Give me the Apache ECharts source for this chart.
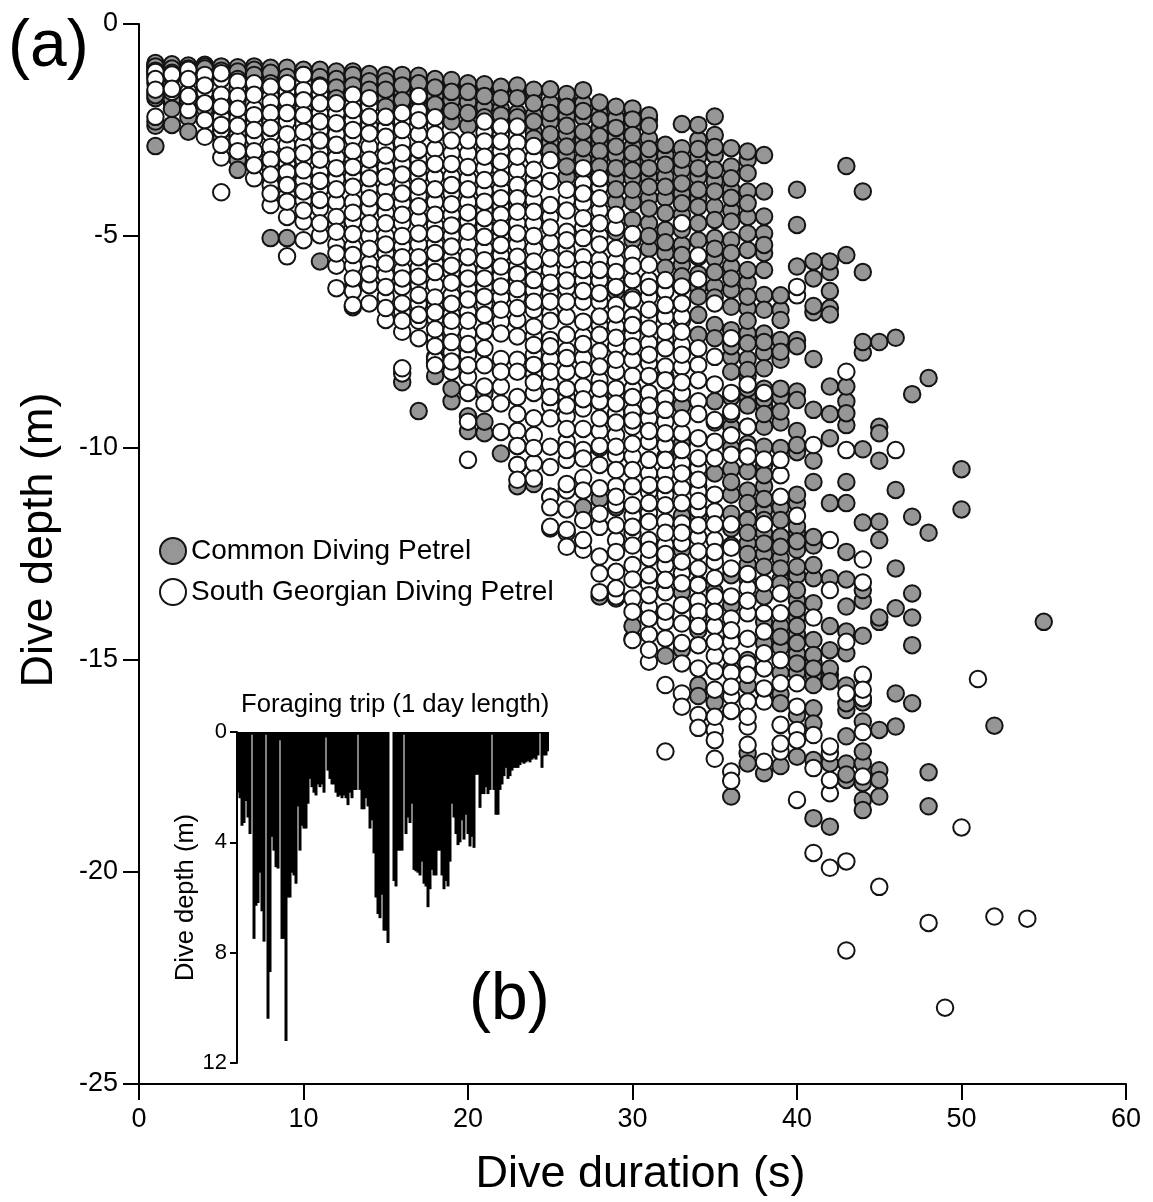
<!DOCTYPE html>
<html><head><meta charset="utf-8">
<style>html,body{margin:0;padding:0;background:#fff}#c{width:1153px;height:1202px}</style>
<script src="https://cdn.jsdelivr.net/npm/echarts@6/dist/echarts.min.js"></script>
</head><body><div id="c"></div>
<script>
const xTicks = [0,10,20,30,40,50,60];
const yTicks = [0,-5,-10,-15,-20,-25];
const speciesNames = ['Common Diving Petrel','South Georgian Diving Petrel'];
const durations = Array.from({length:55},(_,i)=>i+1);
// dive depth (m below surface), one list per dive duration 1..55 s
const commonDepths = [
[0.92,0.98,1.0,1.05,1.1,1.15,1.2,1.6,1.68,1.75,2.3,2.4,2.88],
[0.95,0.98,1.05,1.1,1.15,1.7,1.78,1.85,2.0,2.38],
[0.98,1.0,1.05,1.1,1.8,2.2,2.54],
[0.96,0.98,1.0,1.03,1.05,1.1,1.7,2.0],
[1.0,1.05,1.1,1.2,2.1,2.4,2.5,2.7],
[1.02,1.08,1.12,1.2,1.3,1.5,2.9,3.2,3.44],
[1.0,1.03,1.08,1.12,1.2,1.3,1.45],
[1.03,1.08,1.15,1.25,1.4,5.05],
[1.03,1.1,1.25,1.35,5.05],
[1.08,1.15,1.2,1.3],
[1.08,1.1,1.25,1.3,1.45,1.5,5.6],
[1.12,1.2,1.3,1.4,1.5,1.65,1.75],
[1.12,1.15,1.2,1.3,1.45,1.6,1.8,6.2,6.68],
[1.18,1.25,1.35,1.5,1.55,1.7],
[1.2,1.25,1.35,1.45,1.55,1.75,1.95],
[1.2,1.3,1.45,1.6,1.8,2.0,8.45],
[1.22,1.3,1.4,1.5,1.75,1.95,9.13],
[1.3,1.35,1.5,1.7,1.9,2.1,7.85,8.0,8.3],
[1.32,1.4,1.6,1.8,2.05,2.3,8.6,8.9],
[1.4,1.45,1.6,1.85,2.1,2.4,9.25,9.6],
[1.42,1.5,1.7,1.95,2.2,8.7,9.38,9.65],
[1.48,1.55,1.75,2.0,2.15,2.35,10.13],
[1.45,1.5,1.75,2.1,2.2,10.4,10.9,9.95],
[1.55,1.65,1.87,2.15,2.3,2.55,2.7,10.75,10.85],
[1.54,1.87,2.1,2.3,2.6,2.8,3.0,11.9,11.15],
[1.65,1.75,1.95,2.18,2.4,2.6,2.89,3.1,3.36,3.6,12.0],
[1.56,1.87,2.05,2.2,2.54,2.75,2.93,3.2,3.5,11.4],
[1.85,2.1,2.25,2.46,2.65,2.8,3.0,3.2,3.36,3.5,5.0,11.2,13.5],
[1.95,2.22,2.45,2.66,2.89,3.1,3.4,3.65,3.9,4.2,4.9,6.3,11.4,13.55],
[1.99,2.12,2.25,2.42,2.62,2.89,3.05,3.25,3.45,3.64,3.91,4.2,4.62,5.1,6.43,7.2,14.2,14.5],
[2.15,2.26,2.4,2.7,2.95,3.1,3.4,3.6,3.84,4.1,4.35,4.7,5.0,5.3,6.9,14.0],
[2.85,3.1,3.32,3.6,3.84,4.1,4.46,4.86,5.15,5.4,5.75,8.3,10.2,13.9,14.9],
[2.36,2.93,3.2,3.44,3.76,4.0,4.23,4.5,4.85,5.21,5.45,5.68,5.95,6.19,6.59,7.0,8.7,9.0,9.9,11.6,12.4,13.4,14.75],
[2.38,2.73,2.95,3.13,3.4,3.6,3.91,4.12,4.31,4.7,5.1,5.5,5.9,6.2,6.43,6.86,7.33,10.9,11.6,13.2,14.3,15.59,15.85],
[2.18,2.62,2.9,3.1,3.44,3.7,3.95,4.31,4.62,5.05,5.3,5.53,5.85,6.19,6.45,7.1,7.41,8.9,9.4,10.6,12.5,13.4,14.2,16.0],
[2.93,3.36,3.64,3.9,4.1,4.4,4.66,5.1,5.4,5.72,6.0,6.27,6.67,7.22,7.6,7.85,8.2,8.8,9.2,9.5,10.0,10.5,10.8,11.1,11.55,11.9,12.3,13.0,13.7,14.5,15.2,18.22],
[3.01,3.2,3.52,3.95,4.23,4.55,4.94,5.33,5.8,6.1,6.43,6.7,7.0,7.3,7.53,7.9,8.16,8.3,8.6,8.8,9.0,9.5,9.9,10.2,10.55,11.0,11.3,11.7,12.0,12.25,12.5,12.75,13.1,15.0,15.6,17.2,17.44],
[3.09,3.95,4.54,4.94,5.21,5.4,5.8,6.39,6.74,7.3,7.5,7.75,8.12,8.6,8.85,9.0,9.2,9.5,9.97,10.4,10.64,10.9,11.2,11.46,11.7,12.0,12.25,12.5,12.8,13.5,14.1,14.6,15.7,17.67],
[6.4,6.74,6.98,7.45,7.73,7.92,8.6,8.79,9.14,9.4,10.0,11.4,11.7,12.09,12.33,12.6,12.84,13.1,13.2,14.2,14.45,14.7,15.3,15.8,16.02,17.5],
[3.91,4.74,5.72,7.45,7.6,8.67,8.87,9.6,9.93,10.1,11.1,11.3,11.85,12.0,12.2,12.4,12.8,13.0,13.35,13.6,13.8,14.0,14.2,14.4,14.6,14.85,15.08,15.3,16.3,17.28],
[5.6,6.0,6.65,6.8,7.9,9.1,10.3,10.8,12.1,12.3,12.76,13.07,13.66,14.53,14.88,15.05,15.2,15.35,15.59,16.14,16.5,17.36,18.73],
[5.6,5.85,6.3,6.7,6.85,8.55,9.2,9.77,11.3,13.07,14.2,14.77,15.2,15.35,15.5,17.44,18.93],
[3.35,5.45,8.55,8.9,9.18,9.46,10.8,11.3,12.45,13.1,13.74,14.33,14.84,15.6,16.02,16.18,16.8,17.44,17.7,17.83],
[3.95,5.85,7.5,7.75,10.03,11.76,13.35,13.6,14.43,15.9,16.0,16.45,17.16,17.44,17.9,18.3,18.54],
[7.5,9.5,9.65,10.3,11.74,12.17,14.0,14.1,16.65,17.6,17.83,18.22],
[7.4,10.99,12.84,13.78,15.79,16.57],
[8.73,11.62,13.43,14.0,14.65,16.02],
[8.35,12.0,17.65,18.45],
[],
[10.5,11.45],
[],
[16.55],
[],
[],
[14.1]
];
const southGeorgianDepths = [
[1.13,1.25,1.3,1.4,1.55,2.19],
[1.19,1.25,1.53,1.6],
[1.08,1.2,1.3,1.6,1.7,2.03],
[1.2,1.32,1.45,1.6,1.87,2.27,2.66],
[1.16,1.3,1.67,1.8,1.95,2.2,2.38,2.5,2.85,3.15,3.97],
[1.36,1.55,1.7,1.79,2.0,2.23,2.4,2.6,3.0,2.75],
[1.4,1.55,1.67,2.0,2.15,2.35,2.5,2.7,3.0,3.15,3.33,3.64],
[1.48,1.7,1.85,1.95,2.1,2.3,2.45,2.6,2.9,3.05,3.2,3.4,3.55,3.8,4.0,4.27],
[1.4,1.6,1.8,1.95,2.1,2.3,2.6,2.85,3.1,3.3,3.5,3.65,3.8,4.05,4.19,4.55,5.48],
[1.2,1.4,1.56,1.7,1.8,2.0,2.15,2.35,2.54,2.85,3.05,3.2,3.45,3.68,3.95,4.15,4.4,4.66,5.1],
[1.48,1.65,1.87,2.1,2.3,2.5,2.75,3.0,3.2,3.5,3.7,3.9,4.15,4.35,4.7,4.98],
[1.87,2.1,2.34,2.6,2.85,3.15,3.4,3.65,3.9,4.2,4.55,4.75,4.9,5.2,5.41,5.7,6.23],
[1.67,1.9,2.03,2.27,2.5,2.7,3.0,3.2,3.37,3.6,3.84,4.2,4.45,4.66,4.95,5.25,5.45,5.7,6.0,6.3,6.63],
[1.75,1.95,2.19,2.4,2.58,2.9,3.2,3.45,3.64,3.9,4.11,4.35,4.7,5.0,5.3,5.65,5.9,6.16,6.59],
[2.19,2.45,2.66,2.9,3.1,3.37,3.6,3.9,4.2,4.45,4.7,5.0,5.2,5.41,5.65,5.92,6.2,6.43,6.7,6.98],
[2.1,2.3,2.5,2.8,3.05,3.3,3.55,3.8,4.0,4.23,4.5,4.7,5.0,5.25,5.5,5.8,6.0,6.2,6.59,6.8,7.0,7.26,8.12,8.24],
[1.7,2.05,2.27,2.6,2.97,3.2,3.4,3.6,3.84,4.05,4.3,4.6,4.94,5.2,5.5,5.75,5.96,6.15,6.39,6.6,6.86,7.0,7.41],
[2.2,2.4,2.6,2.95,3.3,3.6,3.9,4.2,4.5,4.75,4.95,5.2,5.4,5.65,5.85,6.15,6.45,6.65,6.8,6.95,7.2,7.4,7.6,7.9,8.05],
[2.75,3.05,3.3,3.6,3.8,4.0,4.25,4.5,4.75,5.0,5.25,5.5,5.7,5.85,6.1,6.4,6.6,6.85,7.0,7.22,7.5,7.75,7.96,8.2],
[2.75,3.05,3.37,3.65,3.9,4.2,4.45,4.65,4.9,5.2,5.5,5.8,6.0,6.25,6.5,6.8,7.0,7.3,7.55,7.8,8.05,8.32,8.7,9.38,10.28],
[2.3,2.55,2.77,2.97,3.13,3.4,3.68,3.95,4.19,4.4,4.58,4.78,5.02,5.3,5.57,5.8,6.0,6.2,6.43,6.6,6.86,7.25,7.65,8.05,8.55,8.95],
[2.42,2.6,2.77,3.0,3.25,3.45,3.64,3.9,4.11,4.3,4.5,4.65,4.82,5.0,5.21,5.45,5.72,5.95,6.19,6.45,6.74,7.02,7.3,7.9,8.2,8.55,8.95,9.62],
[2.42,2.8,3.13,3.45,3.8,3.95,4.11,4.25,4.43,4.7,4.94,5.2,5.49,5.72,5.9,6.08,6.25,6.43,6.7,6.98,7.37,7.92,8.2,8.8,9.2,9.6,9.95,10.4,10.75],
[2.88,3.15,3.44,3.65,3.88,4.15,4.43,4.7,5.0,5.3,5.6,5.8,6.04,6.28,6.55,6.74,7.14,7.36,7.57,7.8,8.04,8.25,8.45,8.7,9.3,9.7,10.0,10.36,10.72],
[3.21,3.7,4.27,4.55,4.8,5.15,5.53,5.8,6.1,6.35,6.55,6.82,7.0,7.45,7.6,7.9,8.2,8.5,8.8,9.0,9.3,9.97,10.45,11.15,11.4,11.86],
[3.91,4.15,4.4,4.9,5.1,5.33,5.55,5.8,6.05,6.23,6.55,6.9,7.33,7.7,7.88,8.2,8.6,8.8,9.0,9.25,9.55,9.85,10.05,10.28,10.85,11.0,11.45,11.93,12.33],
[3.4,3.76,4.0,4.23,4.58,4.8,5.05,5.5,5.8,6.04,6.3,6.55,7.02,7.37,7.55,7.88,8.16,8.55,8.85,9.07,9.55,10.05,10.25,10.7,11.0,11.7,12.17,12.4],
[3.64,3.85,4.11,4.4,4.7,5.0,5.2,5.56,5.8,6.04,6.35,6.55,6.9,7.1,7.33,7.72,8.08,8.4,8.6,8.9,9.3,9.6,9.95,10.0,10.4,10.95,11.55,11.86,12.56,12.96,13.4],
[4.5,4.8,5.29,5.6,5.85,6.08,6.2,6.63,6.85,7.14,7.4,7.6,7.92,8.2,8.6,8.75,8.95,9.18,9.4,9.7,9.97,10.17,10.52,10.9,11.15,11.34,11.82,12.17,12.45,12.92,13.31,13.5],
[4.95,5.42,5.7,6.04,6.5,6.9,7.1,7.33,7.6,7.92,8.3,8.6,8.8,9.14,9.35,9.5,9.9,10.2,10.52,10.9,11.35,11.6,11.86,12.0,12.3,12.76,13.1,13.55,13.86,14.53],
[5.68,6.04,6.2,6.43,6.74,6.95,7.18,7.53,7.8,8.0,8.3,8.7,9.0,9.3,9.6,9.85,10.28,10.6,10.87,11.03,11.3,11.54,11.74,12.17,12.4,12.6,13.0,13.2,13.47,13.75,14.02,14.4,14.76,15.04],
[6.04,6.3,6.63,6.9,7.26,7.45,7.65,8.08,8.4,8.83,9.1,9.38,9.65,9.93,10.28,10.6,10.87,11.1,11.35,11.74,12.0,12.29,12.5,12.76,13.11,13.4,13.86,14.1,14.49,15.59,17.16],
[4.7,6.19,6.59,6.9,7.26,7.57,7.8,8.08,8.45,8.71,9.3,9.65,10.05,10.36,10.6,10.95,11.3,11.78,12.0,12.25,12.68,12.95,13.19,13.7,14.14,14.6,15.08,15.79,16.1],
[5.46,6.02,7.65,8.04,8.4,8.9,9.2,9.77,10.24,10.48,10.75,11.03,11.25,11.46,11.82,12.1,12.44,12.84,13.23,13.6,13.86,14.0,14.2,14.65,15.2,16.3,16.6],
[6.59,7.85,8.5,9.34,9.85,10.24,11.1,11.5,11.8,12.17,12.45,12.68,13.07,13.5,13.86,14.2,14.57,14.9,15.27,15.7,16.34,16.65,16.89,17.33],
[7.41,8.7,9.14,9.7,10.16,11.8,12.35,12.84,13.5,14.02,14.3,14.57,14.92,15.3,15.63,15.85,16.2,17.63,17.85],
[8.5,9.5,10.2,10.0,12.97,13.3,13.6,13.9,14.5,15.08,15.35,15.98,16.34,16.57,17.0],
[8.7,10.27,11.8,13.19,13.9,14.33,14.84,15.2,15.67,15.98,17.4],
[10.28,10.64,11.15,13.43,13.9,15.0,15.55,16.53,16.97,17.16],
[6.2,6.4,11.6,15.55,16.1,16.65,16.89,18.3],
[9.93,14.0,16.77,17.55,19.55],
[12.17,13.35,17.04,17.2,17.83,18.14,19.9],
[8.2,10.05,14.57,15.79,21.85,19.75],
[12.63,13.17,15.35,15.39,15.7,15.9,16.7,17.75],
[20.35],
[10.05],
[],
[21.2],
[23.2],
[18.95],
[15.45],
[21.05],
[],
[21.1],
[]
];
// trip profile (inset b): dive depth through one foraging day
const tripDepths = [2.2,2.4,3.4,3.3,2.5,3.1,3.7,0.1,7.5,6.3,6.2,5.1,6.5,7.6,0.1,10.4,8.7,3.8,4.3,4.9,4.95,0.3,7.5,7.5,11.2,6,6,5.1,5.2,5.5,2.7,4.3,3.4,3.5,3.5,2.6,1.7,2.0,2.2,2.3,1.9,2.0,1.9,2.2,0.2,1.4,1.7,1.9,1.9,2.2,2.35,2.3,2.4,2.3,2.4,2.65,2.2,2.4,2.1,2.1,0.1,2.1,2.8,2.8,2.4,2.7,3.5,3.2,4.4,6.0,6.6,6.75,5.9,7.2,7.2,7.65,0,0,5.4,5.6,4.3,4.3,4.3,0.1,3.7,3.1,3.3,2.6,5.0,5.05,5.1,5.2,4.7,5.5,5.6,6.35,5.7,5.0,5.2,5.2,4.3,4.3,5.2,5.7,5.4,5.6,4.7,2.6,3.1,3.7,4.1,4.0,3.2,3.9,3.0,3.7,4.15,3.8,4.2,1.55,1.55,2.75,2.25,2.25,2.0,2.25,2.1,0.1,2.1,3.0,3.0,2.1,1.9,1.6,1.3,1.7,1.6,1.4,1.3,1.3,1.3,1.2,1.1,1.15,1.1,1.05,1.1,1.0,0.95,1.0,0.85,0.05,1.3,0.85,0.85,0.7];
const tripTicks = [0,4,8,12];

// draw order only: every second dive first, the rest on top, as in an unsorted record
const drawOrder = list => [...list.filter((_,k)=>k%2===1),...list.filter((_,k)=>k%2===0)];
const toPoints = cols => cols.flatMap((list,i)=>drawOrder(list).map(v=>[durations[i],-v]));
const font = 'Liberation Sans, Arial, sans-serif';
const chart = echarts.init(document.getElementById('c'),null,{renderer:'canvas'});
const mark = fill => ({color:fill,borderColor:'#141414',borderWidth:2,opacity:1});
chart.setOption({
  animation:false,
  backgroundColor:'#fff',
  textStyle:{fontFamily:font,color:'#000'},
  grid:[
    {left:139,top:24,width:987,height:1060,outerBoundsMode:'none'},
    {left:237,top:732,width:312,height:331,outerBoundsMode:'none'}
  ],
  xAxis:[
    {gridIndex:0,type:'value',min:xTicks[0],max:xTicks[6],interval:10,splitLine:{show:false},
     axisLine:{onZero:false,lineStyle:{color:'#000',width:2}},axisTick:{length:16,lineStyle:{color:'#000',width:2}},
     axisLabel:{fontSize:27,margin:22,color:'#000',fontFamily:font},
     name:'Dive duration (s)',nameLocation:'middle',nameGap:68,nameTextStyle:{fontSize:45,color:'#000',fontFamily:font,padding:[0,0,0,16]}},
    {gridIndex:1,type:'category',data:tripDepths.map((_,i)=>i),show:false}
  ],
  yAxis:[
    {gridIndex:0,type:'value',min:yTicks[5],max:yTicks[0],interval:5,splitLine:{show:false},
     axisLine:{onZero:false,lineStyle:{color:'#000',width:2}},axisTick:{length:16,lineStyle:{color:'#000',width:2}},
     axisLabel:{fontSize:27,margin:21,color:'#000',fontFamily:font},
     name:'Dive depth (m)',nameLocation:'middle',nameGap:77,nameTextStyle:{fontSize:45,color:'#000',fontFamily:font,padding:[0,0,0,28]}},
    {gridIndex:1,type:'value',inverse:true,min:tripTicks[0],max:tripTicks[3],interval:4,splitLine:{show:false},
     axisLine:{show:true,onZero:false,lineStyle:{color:'#000',width:2}},axisTick:{show:true,length:7,lineStyle:{color:'#000',width:2}},
     axisLabel:{fontSize:22,margin:10,color:'#000',fontFamily:font},
     name:'Dive depth (m)',nameLocation:'middle',nameGap:38,nameTextStyle:{fontSize:25.5,color:'#000',fontFamily:font}}
  ],
  legend:{show:true,orient:'vertical',left:154,top:532,itemWidth:26,itemHeight:26,itemGap:13,icon:'circle',
    data:speciesNames,textStyle:{fontSize:28,color:'#000',fontFamily:font},
    itemStyle:{borderColor:'#141414',borderWidth:2}},
  graphic:[
    {type:'text',left:8,top:15,style:{text:'(a)',fontSize:66,fontFamily:font,fill:'#000'}},
    {type:'text',left:469,top:968,style:{text:'(b)',fontSize:66,fontFamily:font,fill:'#000'}},
    {type:'text',left:241,top:692,style:{text:'Foraging trip (1 day length)',fontSize:25.7,fontFamily:font,fill:'#000'}}
  ],
  series:[
    {name:speciesNames[0],type:'scatter',xAxisIndex:0,yAxisIndex:0,symbol:'circle',symbolSize:16.5,data:toPoints(commonDepths),itemStyle:mark('#969696'),z:2},
    {name:speciesNames[1],type:'scatter',xAxisIndex:0,yAxisIndex:0,symbol:'circle',symbolSize:16.5,data:toPoints(southGeorgianDepths),itemStyle:mark('#ffffff'),z:3},
    {name:'Foraging trip',type:'bar',xAxisIndex:1,yAxisIndex:1,data:tripDepths,barWidth:3,itemStyle:{color:'#000'},z:4}
  ]
});
</script></body></html>
